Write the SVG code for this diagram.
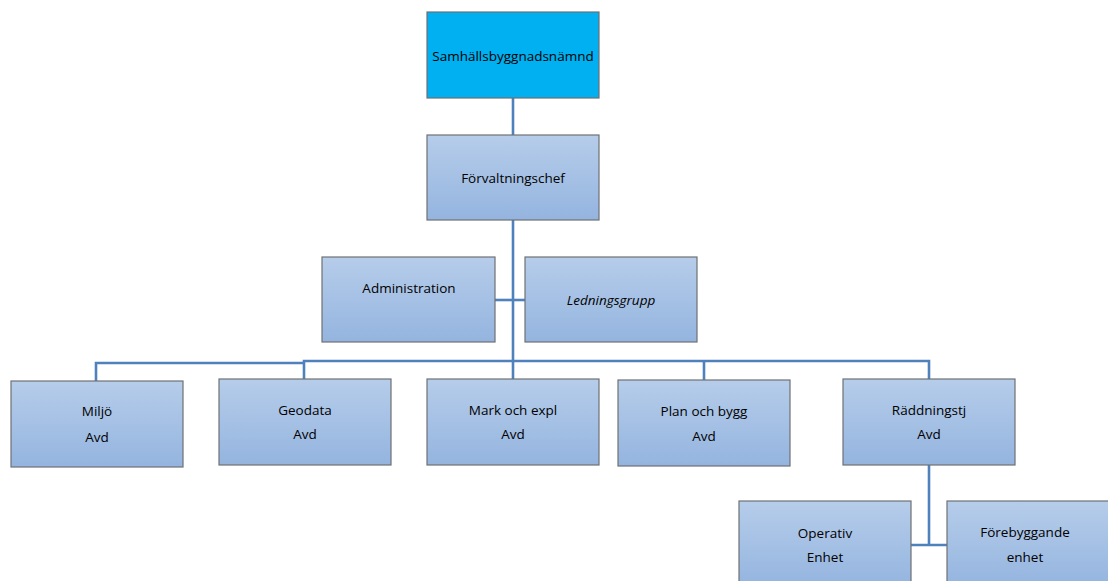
<svg xmlns="http://www.w3.org/2000/svg" width="1108" height="581" viewBox="0 0 1108 581">
<defs>
<linearGradient id="g" x1="0" y1="0" x2="0" y2="1">
<stop offset="0" stop-color="#B6CDEA"/>
<stop offset="1" stop-color="#94B4DF"/>
</linearGradient>
</defs>
<style>
.box{fill:url(#g);stroke:#6F7173;stroke-width:1.2}
.top{fill:#00B0F0;stroke:#6F7173;stroke-width:1.2}
text{font-family:"Open Sans","Liberation Sans",sans-serif;font-size:13.5px;fill:#000;text-anchor:middle}
.it{font-style:italic}
.c{fill:none;stroke:#4F81BD;stroke-width:2.6}
</style>
<rect width="1108" height="581" fill="#fff"/>
<g id="connectors">
<path class="c" d="M513 98V379"/>
<path class="c" d="M495 300H525"/>
<path class="c" d="M513 361H929V379"/>
<path class="c" d="M513 361H304V379"/>
<path class="c" d="M304 363H96V381"/>
<path class="c" d="M704 361V380"/>
<path class="c" d="M929 465V545"/>
<path class="c" d="M911 545H947"/>
</g>
<g id="n-samhall"><rect class="top" x="427" y="12" width="172" height="86"/><text x="513" y="61">Samhällsbyggnadsnämnd</text></g>
<g id="n-forv"><rect class="box" x="427" y="135" width="172" height="85"/><text x="513" y="183">Förvaltningschef</text></g>
<g id="n-admin"><rect class="box" x="322" y="257" width="173" height="85"/><text x="409" y="293">Administration</text></g>
<g id="n-led"><rect class="box" x="525" y="257" width="172" height="85"/><text class="it" x="611" y="305">Ledningsgrupp</text></g>
<g id="n-miljo"><rect class="box" x="11" y="381" width="172" height="86"/><text x="97" y="416">Miljö</text><text x="97" y="442">Avd</text></g>
<g id="n-geodata"><rect class="box" x="219" y="379" width="172" height="86"/><text x="305" y="415">Geodata</text><text x="305" y="439">Avd</text></g>
<g id="n-mark"><rect class="box" x="427" y="379" width="172" height="86"/><text x="513" y="415">Mark och expl</text><text x="513" y="439">Avd</text></g>
<g id="n-plan"><rect class="box" x="618" y="380" width="172" height="86"/><text x="704" y="416">Plan och bygg</text><text x="704" y="441">Avd</text></g>
<g id="n-radd"><rect class="box" x="843" y="379" width="172" height="86"/><text x="929" y="415">Räddningstj</text><text x="929" y="439">Avd</text></g>
<g id="n-operativ"><rect class="box" x="739" y="501" width="172" height="86"/><text x="825" y="538">Operativ</text><text x="825" y="562">Enhet</text></g>
<g id="n-foreb"><rect class="box" x="947" y="501" width="172" height="86"/><text x="1025" y="537">Förebyggande</text><text x="1025" y="562">enhet</text></g>
</svg>
